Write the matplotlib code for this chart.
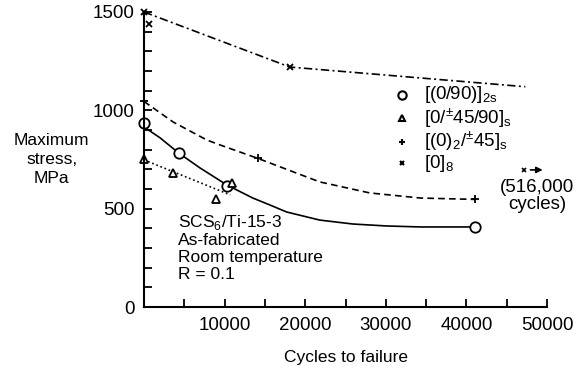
import matplotlib
matplotlib.use("Agg")
import matplotlib.pyplot as plt
from matplotlib.ticker import MultipleLocator, FixedLocator

plt.rcParams['font.family'] = ['Liberation Sans', 'DejaVu Sans']
plt.rcParams['mathtext.fontset'] = 'custom'
plt.rcParams['mathtext.rm'] = 'Liberation Sans'

# Test data: cycles to failure vs maximum stress (MPa)
cyc_090 = [0, 4340, 10300, 41100]
str_090 = [936, 783, 615, 407]

cyc_045 = [0, 3600, 8900, 10900]
str_045 = [753, 682, 549, 631]

cyc_02 = [0, 14100, 41100]
str_02 = [1045, 756, 547]

cyc_08 = [0, 600, 18100]
str_08 = [1500, 1440, 1220]

# Runout specimen (516,000 cycles), plotted at the right edge
runout_cyc = 47100
runout_str = 697

# Fitted trend curves
fit_090_x = [0, 2000, 4300, 6950, 10300, 13500, 15600, 17700, 21800, 25900, 30100, 34300, 41100]
fit_090_y = [915, 860, 783, 707, 620, 554, 519, 483, 442, 422, 412, 407, 407]

fit_045_x = [0, 10700]
fit_045_y = [748, 570]

fit_02_x = [0, 3600, 7800, 9430, 14100, 21800, 28000, 34300, 41100]
fit_02_y = [1045, 941, 849, 824, 756, 636, 580, 554, 547]

fit_08_x = [0, 18100, 47300]
fit_08_y = [1500, 1220, 1120]

fig = plt.figure(figsize=(5.76, 3.71), dpi=100)
ax = fig.add_axes([0.25, 0.1725, 0.6997, 0.7952])

lw = 1.2
ax.plot(fit_090_x, fit_090_y, '-', color='black', lw=lw)
ax.plot(fit_045_x, fit_045_y, ':', color='black', lw=lw)
ax.plot(fit_02_x, fit_02_y, '--', color='black', lw=lw, dashes=(4, 2.5))
ax.plot(fit_08_x, fit_08_y, '-.', color='black', lw=lw, dashes=(5, 2, 1.2, 2))

ax.plot(cyc_090, str_090, 'o', mfc='white', mec='black', ms=7.5, mew=1.3, clip_on=False)
ax.plot(cyc_045, str_045, '^', mfc='white', mec='black', ms=6, mew=1.3, clip_on=False)
ax.plot(cyc_02, str_02, '+', color='black', ms=6, mew=1.3, clip_on=False)
ax.plot(cyc_08, str_08, 'x', color='black', ms=4, mew=1.3, clip_on=False)

ax.plot([runout_cyc], [runout_str], 'x', color='black', ms=3.5, mew=1.2, clip_on=False)
ax.annotate('', xy=(runout_cyc + 2700, runout_str), xytext=(runout_cyc + 500, runout_str),
            arrowprops=dict(arrowstyle='-|>', color='black', lw=1.2, mutation_scale=9),
            annotation_clip=False)
ax.text(runout_cyc + 1700, 650, '(516,000\ncycles)', ha='center', va='top',
        fontsize=13.5, linespacing=0.95, clip_on=False)

ax.set_xlim(0, 50000)
ax.set_ylim(0, 1500)

for s in ['top', 'right']:
    ax.spines[s].set_visible(False)
for s in ['left', 'bottom']:
    ax.spines[s].set_linewidth(1.5)

ax.xaxis.set_major_locator(FixedLocator([10000, 20000, 30000, 40000, 50000]))
ax.xaxis.set_minor_locator(FixedLocator([5000, 15000, 25000, 35000, 45000]))
ax.yaxis.set_major_locator(MultipleLocator(500))
ax.yaxis.set_minor_locator(MultipleLocator(100))
ax.tick_params(which='both', direction='in', length=6, width=1.3, labelsize=13.5, pad=7)
ax.tick_params(axis='y', pad=7)

ax.set_xlabel('Cycles to failure', fontsize=12.5, labelpad=12)
fig.text(0.09, 0.57, 'Maximum\nstress,\nMPa', ha='center', va='center',
         fontsize=12.5, linespacing=1.3)

ax.text(4200, 480, 'SCS$_6$/Ti-15-3\nAs-fabricated\nRoom temperature\nR = 0.1',
        ha='left', va='top', fontsize=12.5, linespacing=1.15)

# Legend drawn as marker + label rows
leg_x = 32000
leg_tx = 34700
rows = [
    ('o', dict(mfc='white', mec='black', ms=6, mew=1.5), r'$\mathregular{[(0/90)]_{2s}}$', 1080),
    ('^', dict(mfc='white', mec='black', ms=5, mew=1.5), r'$\mathregular{[0/^{\pm}45/90]_{s}}$', 960),
    ('+', dict(color='black', ms=4.5, mew=1.5), r'$\mathregular{[(0)_{2}/^{\pm}45]_{s}}$', 840),
    ('x', dict(color='black', ms=3, mew=1.5), r'$\mathregular{[0]_{8}}$', 730),
]
for m, kw, label, yy in rows:
    ax.plot([leg_x], [yy], m, linestyle='none', **kw)
    ax.text(leg_tx, yy, label, ha='left', va='center', fontsize=13.5)

fig.savefig('out.png', dpi=100)
